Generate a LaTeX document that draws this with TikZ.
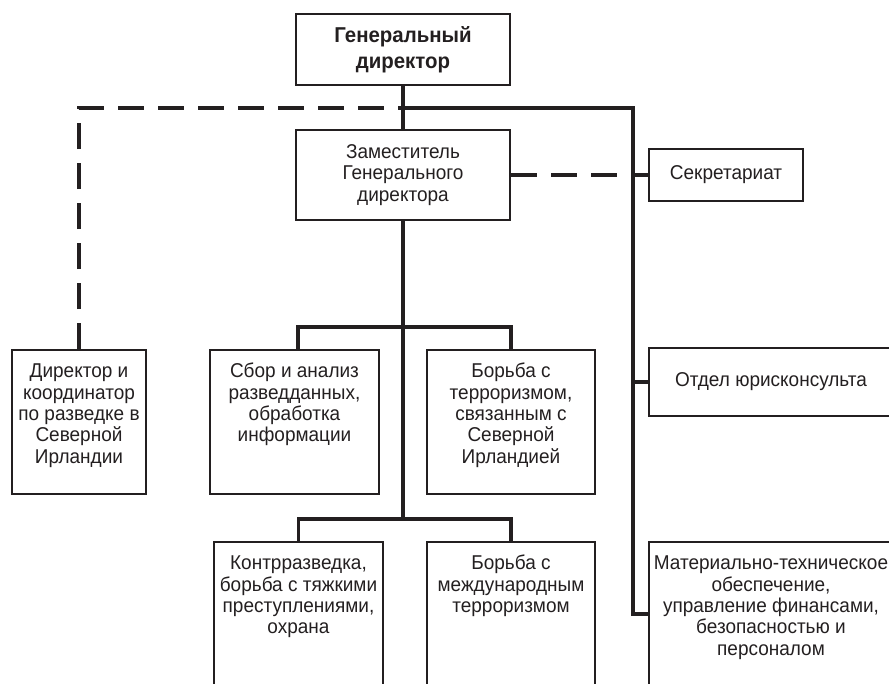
\documentclass[tikz,border=0pt]{standalone}
\usepackage{fontspec}
\setmainfont[FakeStretch=0.95]{Liberation Sans}
\usetikzlibrary{positioning}
\definecolor{ink}{RGB}{35,31,32}
\newcommand\toptext[3]{\parbox[t][#1pt][t]{#2pt}{\centering\strut #3}}

\begin{document}
\begin{tikzpicture}[x=1pt,y=-1pt,
  box/.style={draw=ink,line width=2pt,text=ink,inner sep=0pt,align=center,
    font=\fontsize{20}{21.3}\selectfont},
  topbox/.style={box,anchor=north,inner ysep=13pt},
  link/.style={draw=ink,line width=3.3pt},
  dashlink/.style={link,dash pattern=on 26pt off 14pt}]

\clip (0,0) rectangle (889,683);

% to write entities
\node [box,minimum width=214,minimum height=71,font=\fontsize{21.5}{26}\selectfont\bfseries] (gd) at (403,49.5) {Генеральный\\директор};
\node [box,minimum width=214,minimum height=90] (dep) at (403,175) {Заместитель\\Генерального\\директора};
\node [box,minimum width=154,minimum height=52] (sec) at (726,175) {Секретариат};
\node [box,minimum width=244,minimum height=68] (jur) at (771,382) {Отдел юрисконсульта};

% upper row
\node [topbox] (dir) at (79,349) {\toptext{118}{134}{Директор и\\координатор\\по разведке в\\Северной\\Ирландии}};
\node [topbox] (sbor) at (294.5,349) {\toptext{118}{169}{Сбор и анализ\\разведданных,\\обработка\\информации}};
\node [topbox] (tni) at (511,349) {\toptext{118}{168}{Борьба с\\терроризмом,\\связанным с\\Северной\\Ирландией}};

% lower row
\node [topbox] (kr) at (298.5,541) {\toptext{200}{169}{Контрразведка,\\борьба с тяжкими\\преступлениями,\\охрана}};
\node [topbox] (mt) at (511,541) {\toptext{200}{168}{Борьба с\\международным\\терроризмом}};
\node [topbox] (mto) at (771,541) {\toptext{200}{244}{Материально-техническое\\обеспечение,\\управление финансами,\\безопасностью и\\персоналом}};

% to draw solid lines
\coordinate (jt) at (403,108);
\coordinate (rt) at (633,108);
\coordinate (jb) at (403,519);
\draw [link] (gd.south) -- (dep.north);
\draw [link] (dep.south) -- (jb);
\draw [link] (jt) -- (rt) |- ([yshift=-73pt]mto.north west);
\draw [link] (rt |- jur.west) -- (jur.west);
\draw [link] ([xshift=3.5pt]sbor.north) -- ++(0,-22) -| (tni.north);
\draw [link] (kr.north) -- ++(0,-22) -| (mt.north);

% to draw dashed lines
\draw [dashlink] (dep.east) -- (sec.west);
\draw [dashlink] (dir.north) |- (jt);
\end{tikzpicture}
\end{document}
